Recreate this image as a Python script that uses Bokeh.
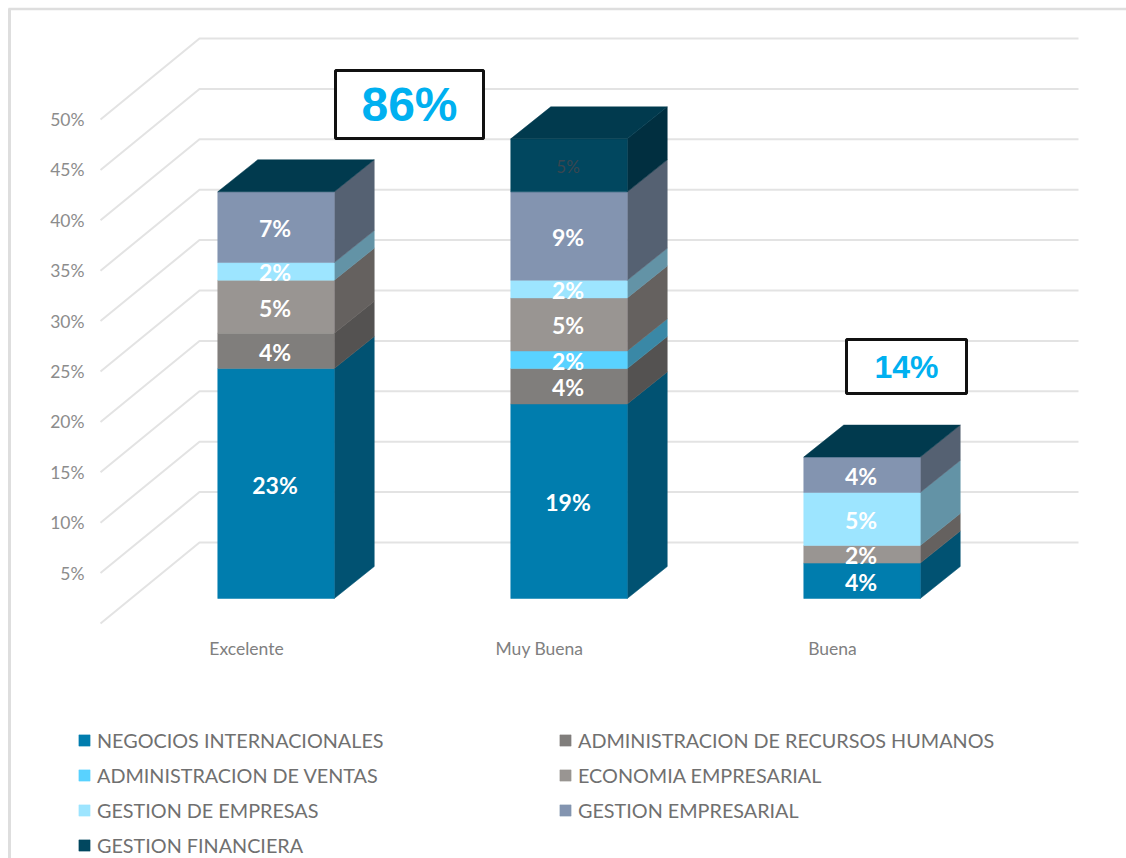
from bokeh.plotting import figure
from bokeh.models import Range1d, Legend, LegendItem
from bokeh.core.properties import value
from bokeh.embed import file_html
from bokeh.resources import INLINE

categories = ["Excelente", "Muy Buena", "Buena"]
series_names = ["NEGOCIOS INTERNACIONALES", "ADMINISTRACION DE RECURSOS HUMANOS",
                "ADMINISTRACION DE VENTAS", "ECONOMIA EMPRESARIAL",
                "GESTION DE EMPRESAS", "GESTION EMPRESARIAL", "GESTION FINANCIERA"]
negocios = [22.81, 19.30, 3.51]
recursos = [3.51, 3.51, 0.0]
ventas = [0.0, 1.75, 0.0]
economia = [5.26, 5.26, 1.75]
gestion_emp = [1.75, 1.75, 5.26]
empresarial = [7.02, 8.77, 3.51]
financiera = [0.0, 5.26, 0.0]
series = [negocios, recursos, ventas, economia, gestion_emp, empresarial, financiera]
front_colors = ["#007DAE", "#807E7C", "#59D2FF", "#999592", "#9DE5FF", "#8394B0", "#01475F"]
side_colors = ["#015272", "#545251", "#3A88A6", "#65615F", "#6393A6", "#556172", "#012F40"]
top_color = "#013A4E"
ticks = [5, 10, 15, 20, 25, 30, 35, 40, 45, 50]
grid_values = [0] + ticks
totals_text = ["86%", "14%"]

W, H = 1126, 858
UX, UY = 293.0, 10.08          # pixels per category, pixels per percent
X0, Y0 = 276.0, 598.0          # page position of first category centre, of 0%


def sx(px):
    return (px - X0) / UX


def sy(py):
    return (Y0 - py) / UY


p = figure(width=W, height=H, toolbar_location=None, output_backend="svg",
           x_range=Range1d(sx(0), sx(W)), y_range=Range1d(sy(H), sy(0)),
           min_border=0, outline_line_color=None, background_fill_color="white")
p.axis.visible = False
p.grid.visible = False

# outer frame
p.line([sx(9), sx(9)], [sy(8), sy(858)], line_color="#DEDEDE", line_width=3)
p.line([sx(8), sx(1126)], [sy(8.5), sy(8.5)], line_color="#DEDEDE", line_width=2.5)

# floor + wall gridlines
GRID = "#E3E3E3"
for v in grid_values:
    yf = v + sy(623)
    yb = v + sy(542)
    p.line([sx(100), sx(199), sx(1078)], [yf, yb, yb], line_color=GRID, line_width=2)

BW = 116.5 / UX
DX = 40 / UX
DY = 32 / UY
XOFF = -0.5 / UX

first = {}
for i, cat in enumerate(categories):
    base = 0.0
    cx = i + XOFF
    for s, vals in enumerate(series):
        v = vals[i]
        if v > 0:
            l, r = cx - BW / 2, cx + BW / 2
            p.patch([r, r + DX, r + DX, r], [base, base + DY, base + v + DY, base + v],
                    fill_color=side_colors[s], line_color=side_colors[s], line_width=0.5)
            q = p.quad(left=l, right=r, bottom=base, top=base + v,
                       fill_color=front_colors[s], line_color=front_colors[s], line_width=0.5)
            first.setdefault(s, q)
        base += v
    l, r = cx - BW / 2, cx + BW / 2
    p.patch([l, r, r + DX, l + DX], [base, base, base + DY, base + DY],
            fill_color=top_color, line_color=top_color, line_width=0.5)

# data labels
for i in range(len(categories)):
    base = 0.0
    for s, vals in enumerate(series):
        v = vals[i]
        if v > 0:
            dark = s == 6
            p.text([i - 0.005], [base + v / 2 - 0.1], text=[f"{round(v)}%"],
                   text_align="center", text_baseline="middle",
                   text_font=value("Lato"), text_font_size="17px" if dark else "23px",
                   text_font_style="normal" if dark else "bold",
                   text_color="#3A4650" if dark else "#FFFFFF")
        base += v

# value ticks
p.text([sx(84)] * len(ticks), [v + sy(623) for v in ticks], text=[f"{v}%" for v in ticks],
       text_align="right", text_baseline="middle", text_font=value("Lato"),
       text_font_size="17.5px", text_color="#8C8C8C")

# category labels
p.text([i - 30 / UX for i in range(len(categories))], [sy(648)] * len(categories), text=categories,
       text_align="center", text_baseline="middle", text_font=value("Lato"),
       text_font_size="17.5px", text_color="#808080")

# total boxes
for (l, r, t, b, txt, fs) in [(335, 483, 70, 138, totals_text[0], "48px"),
                              (846, 966, 339, 393, totals_text[1], "32px")]:
    p.quad(left=sx(l), right=sx(r), top=sy(t), bottom=sy(b), fill_color="white",
           line_color="#111111", line_width=3)
    p.text([sx((l + r) / 2)], [sy((t + b) / 2)], text=[txt], text_align="center",
           text_baseline="middle", text_font=value("Liberation Sans"),
           text_font_size=fs, text_font_style="bold", text_color="#00B0F0")

# legend
items = [LegendItem(label=series_names[s], renderers=[first[s]]) for s in range(len(series_names))]
legend = Legend(items=items, ncols=2, orientation="horizontal", location=(77, 1),
                background_fill_alpha=0, border_line_color=None,
                glyph_width=14, glyph_height=14, label_standoff=6, label_width=450,
                label_height=20, spacing=11, padding=0, margin=0,
                label_text_font="Lato", label_text_font_size="19.8px", label_text_color="#707070")
p.add_layout(legend, "center")

open("out.html", "w").write(file_html(p, INLINE))
